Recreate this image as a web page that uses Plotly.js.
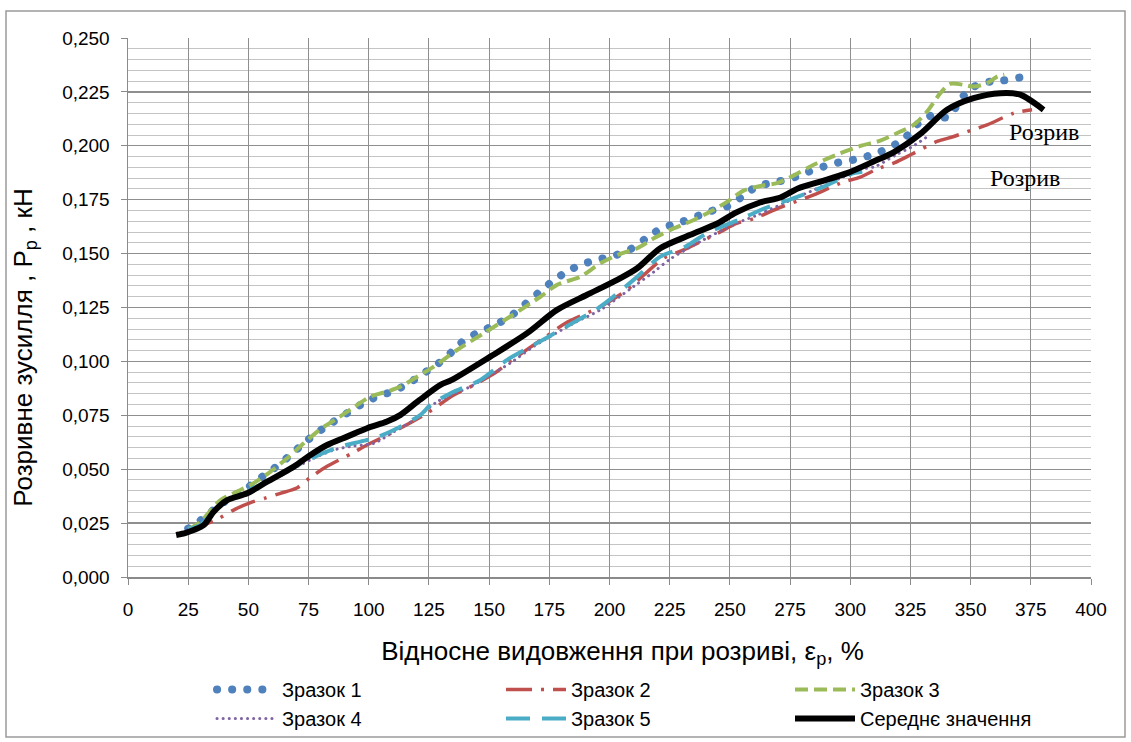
<!DOCTYPE html>
<html>
<head>
<meta charset="utf-8">
<script src="https://cdn.plot.ly/plotly-3.0.1.min.js"></script>
<style>html,body{margin:0;padding:0;background:#fff;}#chart{width:1131px;height:742px;}</style>
</head>
<body>
<div id="chart"></div>
<script>
// ---- data ----
const seriesNames = ["Зразок 1", "Зразок 2", "Зразок 3", "Зразок 4", "Зразок 5", "Середнє значення"];

const s1x = [25, 26.7, 32.9, 39.1, 44.6, 50.2, 55.7, 62.0, 67.5, 73.0, 78.6, 84.8, 91.0, 97.3, 103.5, 110.4, 116.6, 122.8, 129.1, 134.6, 140.2, 146.4, 153.3, 159.6, 165.1, 170.6, 176.2, 182.4, 189.0, 195.9, 202.9, 209.4, 215.6, 221.8, 228.7, 235.3, 242.2, 249.3, 255.3, 261.3, 268.2, 275.3, 282.3, 289.0, 296.1, 303.5, 310.4, 316.6, 322.9, 327.9, 334.0, 340.7, 345.0, 349.6, 356.1, 363.5, 370.6];
const s1y = [0.0225, 0.0233, 0.0288, 0.0342, 0.0380, 0.0419, 0.0465, 0.0515, 0.0566, 0.0620, 0.0670, 0.0716, 0.0760, 0.0803, 0.0837, 0.0863, 0.0899, 0.0945, 0.0992, 0.1045, 0.1103, 0.1138, 0.1174, 0.1216, 0.1267, 0.1319, 0.1370, 0.1417, 0.1452, 0.1474, 0.1494, 0.1525, 0.1574, 0.1618, 0.1642, 0.1669, 0.1697, 0.1721, 0.1766, 0.1812, 0.1830, 0.1848, 0.1878, 0.1904, 0.1925, 0.1940, 0.1964, 0.1993, 0.2039, 0.2100, 0.2141, 0.2132, 0.2200, 0.2263, 0.2294, 0.2303, 0.2317];

const s2x = [25, 30, 37.7, 44.6, 50.9, 57.0, 63.3, 70.3, 75.8, 82.0, 93.1, 99.3, 110.4, 124.2, 135.3, 143.7, 153.3, 159.6, 172.7, 181.7, 196.2, 207.3, 222.5, 230.8, 245.0, 253.0, 259.9, 271.0, 284.8, 295.9, 304.2, 311.1, 318.5, 325.7, 336.0, 343.0, 350.0, 356.8, 367.9, 375.5];
const s2y = [0.0220, 0.0235, 0.0272, 0.0315, 0.0345, 0.0366, 0.0388, 0.0414, 0.0462, 0.0509, 0.0574, 0.0612, 0.0674, 0.0760, 0.0844, 0.0891, 0.0953, 0.1007, 0.1108, 0.1177, 0.1254, 0.1332, 0.1479, 0.1517, 0.1595, 0.1641, 0.1662, 0.1715, 0.1772, 0.1827, 0.1855, 0.1892, 0.1922, 0.1962, 0.2020, 0.2043, 0.2071, 0.2097, 0.2151, 0.2167];

const s3x = [25, 30, 34, 38.4, 45.3, 52.2, 59.2, 66.1, 73.0, 79.9, 86.9, 93.8, 100.7, 107.6, 113.2, 120.1, 127.0, 136.7, 147.8, 158.8, 171.3, 178.2, 187.9, 196.2, 204.5, 211.5, 218.4, 225.3, 233.6, 241.9, 248.8, 255.7, 264.0, 269.6, 277.0, 284.8, 295.9, 305.0, 312.5, 320.8, 326.3, 331.9, 337.4, 341.5, 347.1, 351.2, 356.8, 361.0, 364.0];
const s3y = [0.0222, 0.0255, 0.0305, 0.0357, 0.0396, 0.0435, 0.0489, 0.0551, 0.0620, 0.0685, 0.0736, 0.0787, 0.0837, 0.0860, 0.0883, 0.0929, 0.0976, 0.1053, 0.1131, 0.1208, 0.1300, 0.1355, 0.1393, 0.1455, 0.1499, 0.1525, 0.1571, 0.1610, 0.1649, 0.1695, 0.1740, 0.1792, 0.1817, 0.1827, 0.1865, 0.1912, 0.1966, 0.2002, 0.2024, 0.2066, 0.2097, 0.2159, 0.2244, 0.2287, 0.2283, 0.2275, 0.2290, 0.2321, 0.2330];

const s4x = [25, 30, 35, 40, 50, 60, 70.3, 77.2, 85.5, 93.8, 102.1, 110.4, 118.7, 128.4, 131.2, 142.2, 150.5, 158.8, 168.5, 185.1, 196.2, 210.0, 218.4, 225.3, 237.7, 252.0, 261.3, 273.8, 283.4, 295.9, 304.0, 310.4, 319.0, 325.9, 333.1];
const s4y = [0.0222, 0.0240, 0.0295, 0.0345, 0.0400, 0.0450, 0.0512, 0.0551, 0.0589, 0.0608, 0.0620, 0.0674, 0.0728, 0.0813, 0.0829, 0.0883, 0.0937, 0.0992, 0.1069, 0.1177, 0.1239, 0.1347, 0.1415, 0.1475, 0.1556, 0.1637, 0.1678, 0.1741, 0.1788, 0.1850, 0.1890, 0.1904, 0.1958, 0.1997, 0.2051];

const s5x = [25, 30, 35, 40, 50, 60, 70, 80, 88.2, 96.5, 102.1, 110.4, 121.5, 125.6, 134.0, 146.4, 157.5, 168.5, 179.6, 196.2, 210.0, 221.1, 231.5, 240.5, 254.4, 264.7, 276.5, 289.0, 301.4, 305.0];
const s5y = [0.0222, 0.0240, 0.0298, 0.0348, 0.0402, 0.0455, 0.0515, 0.0570, 0.0605, 0.0628, 0.0643, 0.0682, 0.0752, 0.0798, 0.0852, 0.0914, 0.1007, 0.1076, 0.1146, 0.1254, 0.1378, 0.1486, 0.1532, 0.1595, 0.1660, 0.1711, 0.1757, 0.1811, 0.1873, 0.1880];

const s6x = [20, 24, 27.3, 31.5, 35.6, 41.2, 49.5, 57.8, 68.9, 75.8, 82.7, 91.0, 99.3, 107.6, 113.2, 121.0, 129.8, 134.5, 150.5, 165.8, 178.2, 190.7, 203.2, 211.5, 221.1, 233.6, 245.0, 252.5, 262.5, 271.0, 278.5, 287.6, 298.7, 309.7, 318.0, 329.1, 340.2, 351.2, 362.3, 370.6, 380.3];
const s6y = [0.0195, 0.0205, 0.0218, 0.0241, 0.0303, 0.0357, 0.0388, 0.0442, 0.0512, 0.0566, 0.0612, 0.0651, 0.0690, 0.0721, 0.0752, 0.0820, 0.0891, 0.0914, 0.1022, 0.1131, 0.1239, 0.1309, 0.1378, 0.1432, 0.1525, 0.1587, 0.1641, 0.1690, 0.1737, 0.1760, 0.1803, 0.1834, 0.1873, 0.1927, 0.1970, 0.2055, 0.2167, 0.2221, 0.2244, 0.2237, 0.2167];

const breakLabel = "Розрив";
const breakX = [380.3, 372.6];
const breakY = [0.2064, 0.1851];

const xTitle = "Відносне видовження при розриві, ε<sub>p</sub>, %";
const yTitle = "Розривне зусилля , P<sub>p</sub> , кН";

// ---- traces ----
function tr(x, y, name, color, width, dash) {
  return {x: x, y: y, name: name, type: "scatter", mode: "lines",
          line: {color: color, width: width, dash: dash, shape: "spline", smoothing: 0.8},
          hoverinfo: "skip"};
}
const data = [
  tr(s1x, s1y, seriesNames[0], "#4F81BD", 8, "0.1px,15px"),
  tr(s2x, s2y, seriesNames[1], "#C0504D", 3.5, "26px,9px,3px,9px"),
  tr(s3x, s3y, seriesNames[2], "#9BBB59", 4, "13px,6px"),
  tr(s4x, s4y, seriesNames[3], "#8064A2", 3, "0.1px,6px"),
  tr(s5x, s5y, seriesNames[4], "#4BACC6", 4, "24px,12px"),
  tr(s6x, s6y, seriesNames[5], "#000000", 6, "solid")
];

const W = 1131, H = 742, L = 128, R = 40, T = 38, B = 165;
const pw = W - L - R, ph = H - T - B;
function px2x(px) { return (px - L) / pw; }
function py2y(py) { return (H - B - py) / ph; }

const tickFont = {family: "Liberation Sans, Arial, sans-serif", size: 19, color: "#000"};
const titleFont = {family: "Liberation Sans, Arial, sans-serif", size: 26, color: "#000"};

const layout = {
  width: W, height: H,
  margin: {l: L, r: R, t: T, b: B, pad: 0, autoexpand: false},
  paper_bgcolor: "#fff", plot_bgcolor: "#fff",
  separators: ", ",
  showlegend: true,
  xaxis: {
    range: [0, 400], tick0: 0, dtick: 25, autorange: false, automargin: false,
    ticks: "outside", ticklen: 6, tickcolor: "#8a8a8a", tickwidth: 1, ticklabelstandoff: 9,
    showgrid: true, gridcolor: "#8f8f8f", gridwidth: 1,
    showline: true, linecolor: "#8a8a8a", linewidth: 1.5, zeroline: false,
    tickfont: tickFont,
    title: {text: xTitle, font: titleFont, standoff: 22}
  },
  yaxis: {
    range: [0, 0.25], tick0: 0, dtick: 0.025, autorange: false, tickformat: ".3f", automargin: false,
    ticks: "outside", ticklen: 6, tickcolor: "#8a8a8a", tickwidth: 1, ticklabelstandoff: 7,
    showgrid: true, gridcolor: "#8f8f8f", gridwidth: 1.2,
    minor: {dtick: 0.005, showgrid: true, gridcolor: "#c4c4c4", gridwidth: 1, ticks: ""},
    showline: true, linecolor: "#8a8a8a", linewidth: 1.5, zeroline: false,
    tickfont: tickFont,
    title: {text: yTitle, font: titleFont, standoff: 22}
  },
  legend: {
    orientation: "h", x: px2x(212), xanchor: "left", y: py2y(670), yanchor: "top",
    entrywidth: 214, entrywidthmode: "pixels", itemwidth: 60,
    font: {family: "Liberation Sans, Arial, sans-serif", size: 20, color: "#000"},
    bgcolor: "rgba(0,0,0,0)", tracegroupgap: 0
  },
  annotations: breakX.map((bx, i) => ({
    x: bx, y: breakY[i], xref: "x", yref: "y", text: breakLabel, showarrow: false,
    font: {family: "Liberation Serif, Times New Roman, serif", size: 24, color: "#000"}
  })),
  shapes: [{
    type: "rect", xref: "paper", yref: "paper", layer: "below",
    x0: px2x(6), x1: px2x(1125), y0: py2y(737), y1: py2y(11),
    line: {color: "#9a9a9a", width: 1.5}, fillcolor: "rgba(0,0,0,0)"
  }]
};

Plotly.newPlot("chart", data, layout, {displayModeBar: false, staticPlot: true}).then(function () {
  // round caps for the dotted series (Excel round-dot look)
  const roundIdx = [0, 3];
  const traces = document.querySelectorAll(".scatterlayer .trace");
  roundIdx.forEach(function (i) {
    if (traces[i]) traces[i].querySelectorAll("path.js-line").forEach(function (p) { p.style.strokeLinecap = "round"; });
  });
  const legItems = document.querySelectorAll(".legend .traces");
  roundIdx.forEach(function (i) {
    if (legItems[i]) legItems[i].querySelectorAll(".legendlines path").forEach(function (p) { p.style.strokeLinecap = "round"; });
  });
  // nudge axis titles to the reference's positions
  const yt = document.querySelector(".g-ytitle text");
  if (yt) yt.setAttribute("transform", "translate(0,40) " + (yt.getAttribute("transform") || ""));
  const xt = document.querySelector(".g-xtitle text");
  if (xt) xt.setAttribute("transform", "translate(13,0) " + (xt.getAttribute("transform") || ""));
});
</script>
</body>
</html>
